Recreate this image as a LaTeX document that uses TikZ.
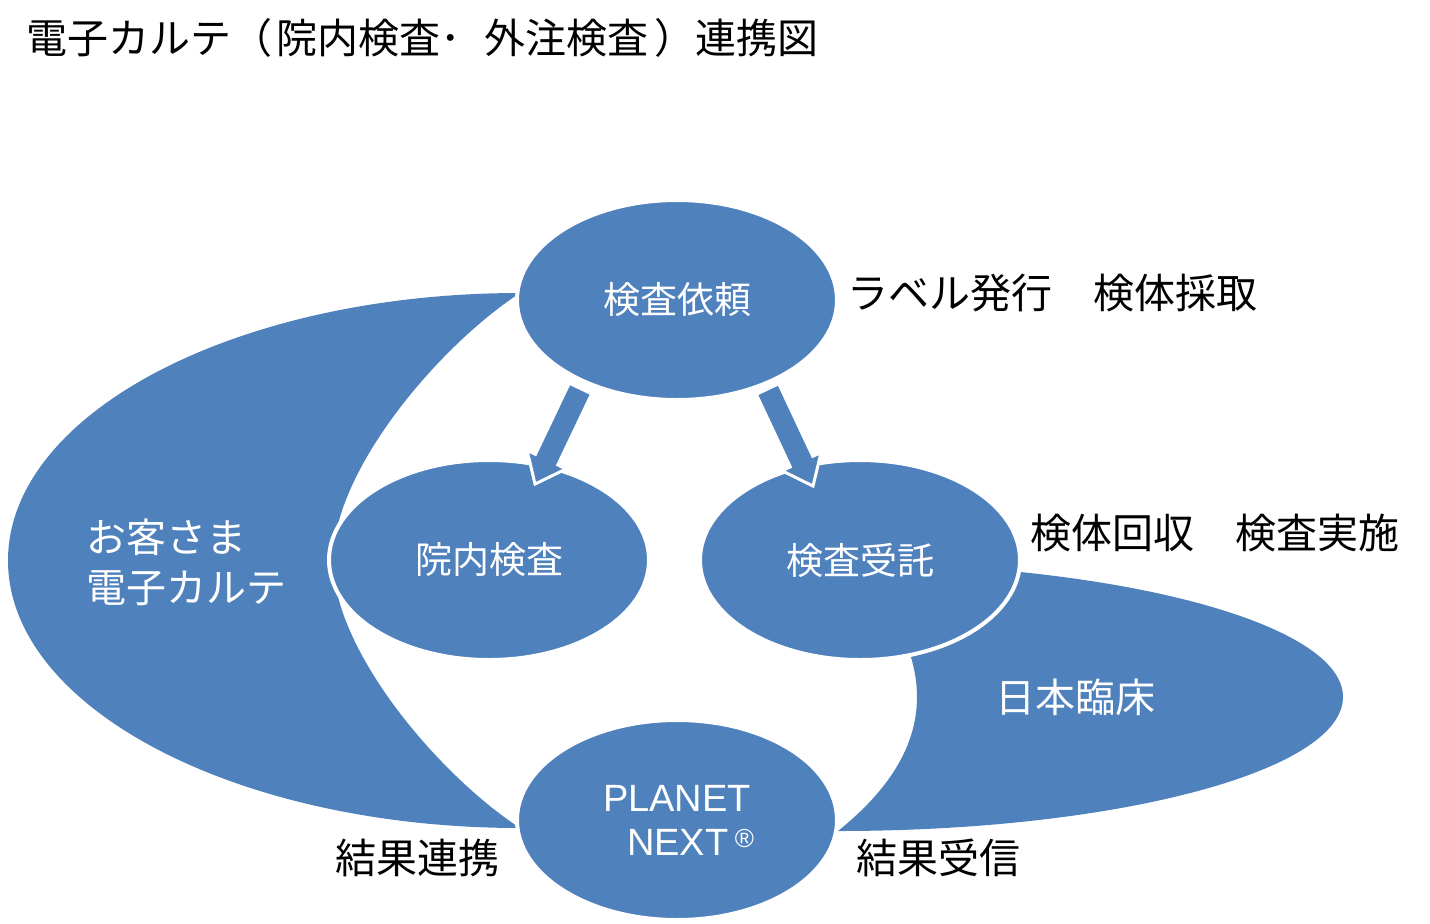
\documentclass[tikz,border=0pt]{standalone}
\usepackage{fontspec}
\setmainfont{Liberation Sans}
\newfontfamily\jp{Noto Sans CJK JP}
\newfontfamily\lat{Liberation Sans}
\usetikzlibrary{shapes.geometric,calc}
\definecolor{nblue}{RGB}{79,129,189}
\begin{document}
\begin{tikzpicture}[x=0.5pt,y=-0.5pt,
  bubble/.style={ellipse, fill=nblue, draw=white, line width=2pt,
    minimum width=160pt, minimum height=100pt, inner sep=0pt,
    text=white, align=center, font=\jp\fontsize{18.5pt}{22pt}\selectfont},
  blk/.style={font=\jp\fontsize{20.5pt}{24pt}\selectfont, inner sep=0pt, anchor=west},
  wht/.style={text=white, font=\jp\fontsize{20pt}{25pt}\selectfont, inner sep=0pt},
  crescent/.style={fill=nblue},
  arrowshape/.style={fill=nblue, draw=white, line width=1.5pt, line join=miter}
]
\useasboundingbox (0,0) rectangle (1430,923);

% title
\node[anchor=west, inner sep=0pt, font=\jp\fontsize{20.5pt}{24pt}\selectfont] (title) at (26,38)
  {電子カルテ（\hspace*{2pt}院内検査･\hspace*{12pt}外注検査\hspace*{3pt}）連携図};

% left crescent (お客さま電子カルテ)
\fill[crescent] (520,293) .. controls (237.2,293) and (8,412.8) .. (8,560.5)
  .. controls (8,708.2) and (237.2,828) .. (520,828)
  .. controls (440,776) and (333,651) .. (333,560.5)
  .. controls (333,470) and (440,345) .. (520,293) -- cycle;
\node[wht, anchor=west, align=left] (ehr) at (86,562) {お客さま\\電子カルテ};

% right crescent (日本臨床)
\fill[crescent] (838,563) .. controls (1116.9,563) and (1343,623) .. (1343,697)
  .. controls (1343,771) and (1116.9,831) .. (838,831)
  .. controls (870,805) and (917,760) .. (917,697)
  .. controls (917,640) and (880,590) .. (838,563) -- cycle;
\node[wht] (lab) at (1075,697) {日本臨床};

% ellipses
\node[bubble] (ask) at (677,300) {検査依頼};
\node[bubble] (inh) at (489,560) {院内検査};
\node[bubble] (out) at (860,560) {検査受託};
\node[bubble, font=\lat\fontsize{19pt}{22pt}\selectfont] (planet) at (677,820)
  {PLANET\\\hspace*{13.5pt}NEXT\,\raisebox{4pt}{\fontsize{13pt}{13pt}\selectfont ®}};

% block arrows
\coordinate (s1) at (580.5,388.5);
\coordinate (e1) at (535,484);
\coordinate (s2) at (767.5,389);
\coordinate (e2) at (813,486);
\foreach \s/\e in {s1/e1, s2/e2}{
  \coordinate (h) at ($(\e)!13.5pt!(\s)$);
  \draw[arrowshape] ($(\s)!6.2pt!90:(\e)$) -- ($(h)!6.2pt!90:(\e)$)
    -- ($(h)!10.8pt!90:(\e)$) -- (\e) -- ($(h)!10.8pt!-90:(\e)$)
    -- ($(h)!6.2pt!-90:(\e)$) -- ($(\s)!6.2pt!-90:(\e)$) -- cycle;
}

% black labels
\node[blk] (l1) at (847,293) {ラベル発行　検体採取};
\node[blk] (l2) at (1030,533) {検体回収　検査実施};
\node[blk] (l3) at (335,858) {結果連携};
\node[blk] (l4) at (856,858) {結果受信};
\end{tikzpicture}
\end{document}
